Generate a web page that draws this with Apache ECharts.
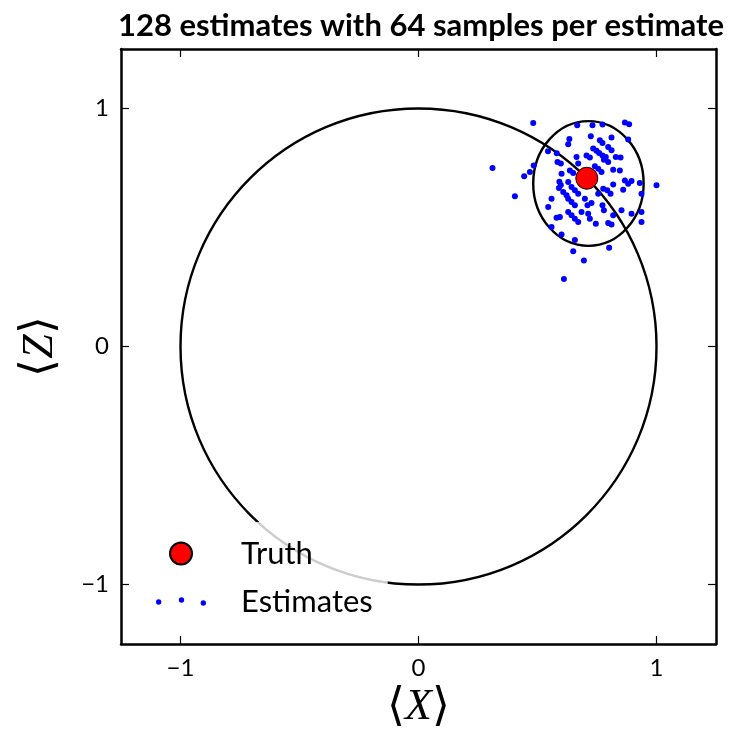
<!DOCTYPE html>
<html>
<head>
<meta charset="utf-8">
<script src="https://cdn.jsdelivr.net/npm/echarts@6/dist/echarts.min.js"></script>
<style>
  html, body { margin: 0; padding: 0; background: #fff; }
  #chart { width: 738px; height: 740px; }
</style>
</head>
<body>
<div id="chart"></div>
<script>
// tick values shared by both axes
const tickValues = [-1, 0, 1]

// the true state
const truth = [[0.707, 0.707]]

// 128 estimates, each from 64 samples (a few hide under the truth marker)
const estimates = [
  [0.482, 0.939], [0.667, 0.930], [0.731, 0.930], [0.773, 0.933], [0.867, 0.941], [0.885, 0.934],
  [0.724, 0.883], [0.634, 0.872], [0.629, 0.850], [0.762, 0.867], [0.773, 0.855], [0.811, 0.878], [0.881, 0.870],
  [0.544, 0.820], [0.581, 0.812], [0.584, 0.775], [0.598, 0.769], [0.664, 0.796], [0.706, 0.803], [0.720, 0.794], [0.671, 0.769],
  [0.734, 0.832], [0.748, 0.822], [0.759, 0.813], [0.773, 0.803], [0.787, 0.796],
  [0.797, 0.838], [0.811, 0.825], [0.779, 0.785], [0.797, 0.775], [0.829, 0.796], [0.849, 0.794],
  [0.484, 0.761], [0.468, 0.733], [0.444, 0.715], [0.311, 0.750],
  [0.741, 0.757], [0.755, 0.747], [0.636, 0.740], [0.650, 0.729], [0.601, 0.726], [0.818, 0.743], [0.846, 0.740], [0.769, 0.733],
  [0.592, 0.692], [0.598, 0.679], [0.590, 0.666], [0.629, 0.691],
  [0.643, 0.670], [0.657, 0.656], [0.671, 0.642],
  [0.608, 0.649], [0.622, 0.635], [0.629, 0.621], [0.643, 0.607], [0.657, 0.593],
  [0.559, 0.621], [0.699, 0.621], [0.710, 0.593], [0.545, 0.586],
  [0.629, 0.565], [0.643, 0.551], [0.657, 0.537], [0.685, 0.565], [0.713, 0.558],
  [0.580, 0.541], [0.594, 0.544], [0.671, 0.523], [0.720, 0.537], [0.559, 0.502],
  [0.867, 0.698], [0.881, 0.684], [0.895, 0.695], [0.930, 0.687], [1.000, 0.677], [0.818, 0.681],
  [0.776, 0.663], [0.793, 0.656], [0.807, 0.642], [0.860, 0.659], [0.937, 0.642], [0.727, 0.603],
  [0.773, 0.593], [0.779, 0.572], [0.853, 0.572], [0.895, 0.558], [0.937, 0.565], [0.818, 0.551],
  [0.797, 0.519], [0.811, 0.513], [0.745, 0.516], [0.937, 0.523], [0.405, 0.631],
  [0.601, 0.471], [0.657, 0.448], [0.650, 0.400], [0.801, 0.415], [0.695, 0.361], [0.611, 0.284], [0.755, 0.642],
  [0.700, 0.720], [0.720, 0.690]
]

// [centre X, centre Z, radius X, radius Z]
const blochCircle = [[0, 0, 1, 1]]
const spreadEllipse = [[0.714, 0.685, 0.232, 0.262]]

const axisMin = -1.25
const axisMax = 1.25

const chart = echarts.init(document.getElementById('chart'))

function minusSign(v) {
  return String(v).replace('-', '\u2212')
}

function ellipseItem(params, api) {
  const c = api.coord([api.value(0), api.value(1)])
  const s = api.size([api.value(2), api.value(3)])
  return {
    type: 'ellipse',
    shape: { cx: c[0], cy: c[1], rx: s[0], ry: s[1] },
    style: { fill: 'none', stroke: '#000', lineWidth: 2.4 }
  }
}

function frameAxis(position, showLabels) {
  return {
    type: 'value',
    position: position,
    min: axisMin,
    max: axisMax,
    axisLine: { show: true, onZero: false, lineStyle: { color: '#000', width: 2.5 } },
    axisTick: {
      show: true,
      inside: true,
      length: 8,
      customValues: tickValues,
      lineStyle: { color: '#000', width: 1.2 }
    },
    axisLabel: {
      show: showLabels,
      customValues: tickValues,
      formatter: minusSign,
      fontFamily: 'Lato',
      fontSize: 24,
      color: '#000',
      margin: 12
    },
    splitLine: { show: false }
  }
}

const xBottom = frameAxis('bottom', true)
xBottom.name = '{b|\u27e8}{v|X}{b|\u27e9}'
xBottom.nameLocation = 'middle'
xBottom.nameGap = 40
xBottom.nameTextStyle = {
  rich: {
    b: { fontFamily: 'DejaVu Sans', fontSize: 46, color: '#000', fontWeight: 'lighter' },
    v: { fontFamily: 'Liberation Serif', fontStyle: 'italic', fontSize: 44, color: '#000' }
  }
}
const xTop = frameAxis('top', false)

const yLeft = frameAxis('left', true)
yLeft.name = '{b|\u27e8}{v|Z}{b|\u27e9}'
yLeft.nameLocation = 'middle'
yLeft.nameGap = 58
yLeft.nameRotate = 90
yLeft.nameTextStyle = xBottom.nameTextStyle
const yRight = frameAxis('right', false)

const option = {
  animation: false,
  backgroundColor: '#fff',
  title: {
    text: '128 estimates with 64 samples per estimate',
    left: 416,
    top: 5,
    textAlign: 'center',
    textStyle: { fontFamily: 'Lato', fontWeight: 'bold', fontSize: 31, color: '#000' }
  },
  grid: { left: 121, right: 22, top: 49, bottom: 96 },
  xAxis: [xBottom, xTop],
  yAxis: [yLeft, yRight],
  legend: {
    orient: 'vertical',
    left: 140,
    top: 522,
    padding: [16, 15, 14, 16],
    itemGap: 17,
    itemWidth: 50,
    itemHeight: 22,
    selectedMode: false,
    backgroundColor: 'rgba(255,255,255,0.8)',
    textStyle: { fontFamily: 'Lato', fontSize: 31, color: '#000', lineHeight: 22, height: 22, padding: [0, 0, 0, 30] },
    data: [
      { name: 'Truth', icon: 'circle' },
      {
        name: 'Estimates',
        icon: 'path://M0,4.7a2.7,2.7 0 1,0 5.4,0a2.7,2.7 0 1,0 -5.4,0Z' +
          'M23,2.7a2.7,2.7 0 1,0 5.4,0a2.7,2.7 0 1,0 -5.4,0Z' +
          'M45,5.7a2.7,2.7 0 1,0 5.4,0a2.7,2.7 0 1,0 -5.4,0Z'
      }
    ]
  },
  series: [
    {
      name: 'circle',
      type: 'custom',
      renderItem: ellipseItem,
      data: blochCircle,
      silent: true,
      z: 1
    },
    {
      name: 'spread',
      type: 'custom',
      renderItem: ellipseItem,
      data: spreadEllipse,
      silent: true,
      z: 1
    },
    {
      name: 'Estimates',
      type: 'scatter',
      symbol: 'circle',
      symbolSize: 6,
      itemStyle: { color: '#0000ff', opacity: 1 },
      data: estimates,
      z: 2
    },
    {
      name: 'Truth',
      type: 'scatter',
      symbol: 'circle',
      symbolSize: 22,
      itemStyle: { color: '#ff0000', borderColor: '#000', borderWidth: 1, opacity: 1 },
      data: truth,
      z: 3
    }
  ]
}

chart.setOption(option)
</script>
</body>
</html>
